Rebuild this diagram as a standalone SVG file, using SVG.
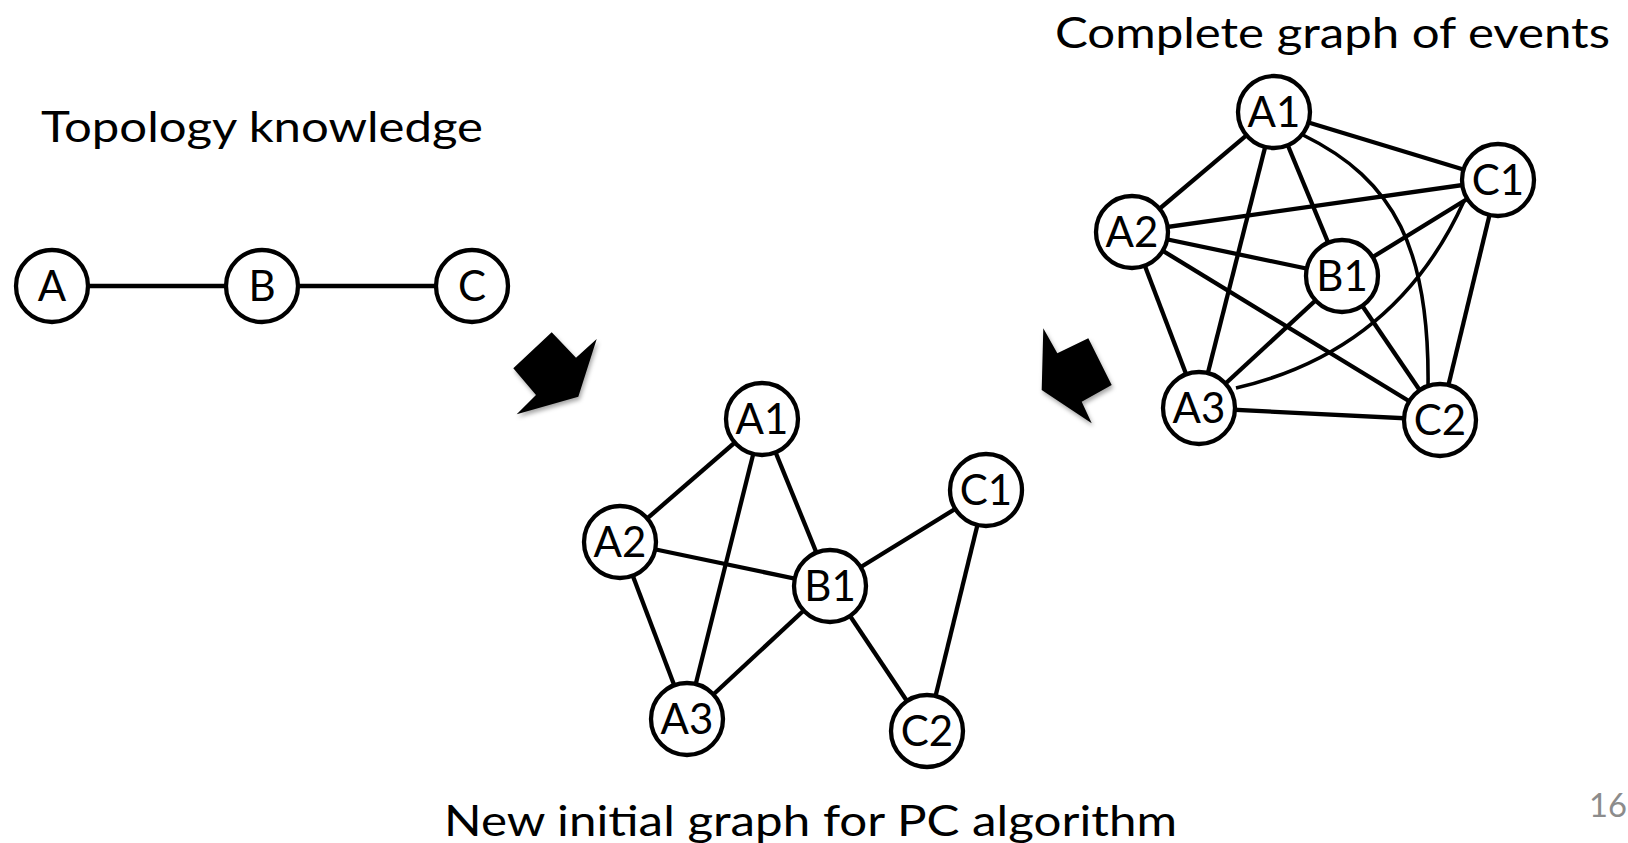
<svg xmlns="http://www.w3.org/2000/svg" width="1628" height="843" viewBox="0 0 1628 843">
  <defs>
    <style>
      .edge { stroke: #000; stroke-width: 4.3; fill: none; }
      .thin { stroke: #000; stroke-width: 3.6; fill: none; }
      .node circle { fill: #fff; stroke: #000; stroke-width: 4.3; }
      .label { font-family: Lato, "Open Sans", "Liberation Sans", sans-serif; font-size: 42px; fill: #000; text-anchor: middle; }
      .title { font-family: Lato, "Open Sans", "Liberation Sans", sans-serif; font-size: 43px; fill: #000; }
      .page { font-family: Lato, "Open Sans", "Liberation Sans", sans-serif; font-size: 33px; fill: #8c8c8c; }
      .arrow { fill: #000; filter: url(#shadow); }
    </style>
    <filter id="shadow" x="-30%" y="-30%" width="160%" height="160%">
      <feDropShadow dx="1.5" dy="3" stdDeviation="2" flood-color="#000" flood-opacity="0.35"/>
    </filter>
  </defs>

  <rect width="1628" height="843" fill="#fff"/>

  <!-- headings -->
  <text class="title" x="41" y="142" textLength="442" lengthAdjust="spacingAndGlyphs">Topology knowledge</text>
  <text class="title" x="1055" y="48" textLength="555" lengthAdjust="spacingAndGlyphs">Complete graph of events</text>
  <text class="title" x="444" y="836" textLength="733" lengthAdjust="spacingAndGlyphs">New initial graph for PC algorithm</text>
  <text class="page" x="1589" y="817" textLength="38" lengthAdjust="spacingAndGlyphs">16</text>

  <!-- block arrows -->
  <g id="arrow-left">
    <polygon class="arrow" points="551.7,332.3 513.3,368.3 536,395 516.7,414.3 578.3,396.7 596.7,339 576,357.7"/>
  </g>
  <g id="arrow-right">
    <polygon class="arrow" points="1043.3,328.3 1057.3,353.3 1088.3,338.3 1111.7,385 1081.7,401.7 1091.7,423.3 1041.7,390"/>
  </g>

  <!-- connectors -->
  <g id="connectors">
    <!-- topology: A - B - C -->
    <line class="edge" x1="52" y1="286" x2="262" y2="286"/>
    <line class="edge" x1="262" y1="286" x2="472" y2="286"/>

    <!-- complete graph -->
    <line class="edge" x1="1274" y1="112" x2="1132" y2="232"/>
    <line class="edge" x1="1274" y1="112" x2="1498" y2="180"/>
    <line class="edge" x1="1274" y1="112" x2="1199" y2="408"/>
    <line class="edge" x1="1274" y1="112" x2="1342" y2="276"/>
    <path class="thin" d="M1303,135 C1395,180 1430,250 1428,388"/>
    <line class="edge" x1="1132" y1="232" x2="1498" y2="180"/>
    <line class="edge" x1="1132" y1="232" x2="1342" y2="276"/>
    <line class="edge" x1="1132" y1="232" x2="1440" y2="420"/>
    <line class="edge" x1="1132" y1="232" x2="1199" y2="408"/>
    <line class="edge" x1="1342" y1="276" x2="1498" y2="180"/>
    <line class="edge" x1="1342" y1="276" x2="1199" y2="408"/>
    <line class="edge" x1="1342" y1="276" x2="1440" y2="420"/>
    <path class="thin" d="M1464,201 Q1396,351 1236,388"/>
    <line class="edge" x1="1498" y1="180" x2="1440" y2="420"/>
    <line class="edge" x1="1199" y1="408" x2="1440" y2="420"/>

    <!-- pruned initial graph -->
    <line class="edge" x1="762" y1="419" x2="620" y2="542"/>
    <line class="edge" x1="762" y1="419" x2="687" y2="719"/>
    <line class="edge" x1="762" y1="419" x2="830" y2="586"/>
    <line class="edge" x1="620" y1="542" x2="830" y2="586"/>
    <line class="edge" x1="620" y1="542" x2="687" y2="719"/>
    <line class="edge" x1="687" y1="719" x2="830" y2="586"/>
    <line class="edge" x1="830" y1="586" x2="986" y2="490"/>
    <line class="edge" x1="830" y1="586" x2="927" y2="731"/>
    <line class="edge" x1="986" y1="490" x2="927" y2="731"/>
  </g>

  <!-- topology nodes -->
  <g id="topo-A" class="node"><circle cx="52" cy="286" r="36"/><text class="label" x="52" y="301">A</text></g>
  <g id="topo-B" class="node"><circle cx="262" cy="286" r="36"/><text class="label" x="262" y="301">B</text></g>
  <g id="topo-C" class="node"><circle cx="472" cy="286" r="36"/><text class="label" x="472" y="301">C</text></g>

  <!-- complete graph nodes -->
  <g id="full-A1" class="node"><circle cx="1274" cy="112" r="36"/><text class="label" x="1274" y="127">A1</text></g>
  <g id="full-C1" class="node"><circle cx="1498" cy="180" r="36"/><text class="label" x="1498" y="195">C1</text></g>
  <g id="full-A2" class="node"><circle cx="1132" cy="232" r="36"/><text class="label" x="1132" y="247">A2</text></g>
  <g id="full-B1" class="node"><circle cx="1342" cy="276" r="36"/><text class="label" x="1342" y="291">B1</text></g>
  <g id="full-A3" class="node"><circle cx="1199" cy="408" r="36"/><text class="label" x="1199" y="423">A3</text></g>
  <g id="full-C2" class="node"><circle cx="1440" cy="420" r="36"/><text class="label" x="1440" y="435">C2</text></g>

  <!-- initial graph nodes -->
  <g id="init-A1" class="node"><circle cx="762" cy="419" r="36"/><text class="label" x="762" y="434">A1</text></g>
  <g id="init-A2" class="node"><circle cx="620" cy="542" r="36"/><text class="label" x="620" y="557">A2</text></g>
  <g id="init-B1" class="node"><circle cx="830" cy="586" r="36"/><text class="label" x="830" y="601">B1</text></g>
  <g id="init-C1" class="node"><circle cx="986" cy="490" r="36"/><text class="label" x="986" y="505">C1</text></g>
  <g id="init-A3" class="node"><circle cx="687" cy="719" r="36"/><text class="label" x="687" y="734">A3</text></g>
  <g id="init-C2" class="node"><circle cx="927" cy="731" r="36"/><text class="label" x="927" y="746">C2</text></g>
</svg>
